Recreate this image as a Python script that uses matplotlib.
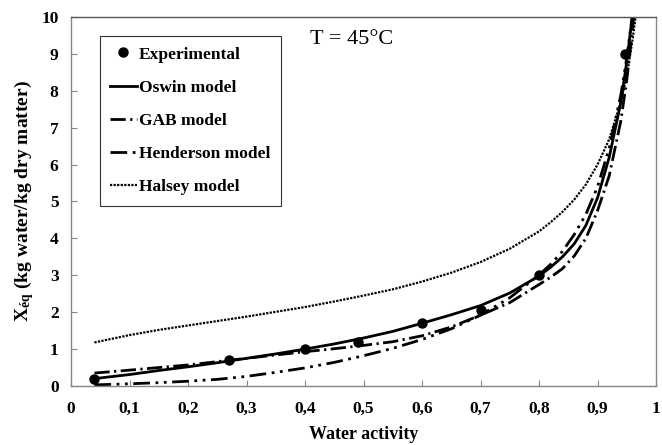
import matplotlib
matplotlib.use("Agg")
import matplotlib.pyplot as plt

plt.rcParams['font.family'] = ['Liberation Serif', 'DejaVu Serif']
plt.rcParams['font.weight'] = 'bold'
plt.rcParams['mathtext.fontset'] = 'custom'
plt.rcParams['mathtext.rm'] = 'Liberation Serif:bold'
plt.rcParams['mathtext.it'] = 'Liberation Serif:bold'
plt.rcParams['mathtext.bf'] = 'Liberation Serif:bold'

# Experimental data
exp_aw = [0.04, 0.27, 0.40, 0.49, 0.60, 0.70, 0.80, 0.947]
exp_x = [0.20, 0.70, 1.00, 1.20, 1.70, 2.05, 3.00, 9.00]

# Model curves
aw = [0.04, 0.10, 0.15, 0.20, 0.25, 0.30, 0.35, 0.40, 0.45, 0.50, 0.55, 0.60,
      0.65, 0.70, 0.75, 0.80, 0.82, 0.84, 0.86, 0.88, 0.90, 0.92, 0.94, 0.95,
      0.96, 0.965]
oswin = [0.20, 0.31, 0.42, 0.52, 0.63, 0.75, 0.87, 1.00, 1.14, 1.30, 1.48, 1.70,
         1.93, 2.18, 2.52, 2.98, 3.22, 3.50, 3.85, 4.35, 5.10, 6.20, 7.70, 8.80,
         10.1, 10.8]
gab = [0.35, 0.43, 0.50, 0.57, 0.66, 0.75, 0.84, 0.93, 1.01, 1.10, 1.20, 1.36,
       1.60, 1.92, 2.26, 2.75, 2.95, 3.18, 3.52, 4.00, 4.75, 5.70, 7.20, 8.30,
       9.70, 10.5]
henderson = [0.03, 0.06, 0.09, 0.13, 0.18, 0.26, 0.37, 0.49, 0.64, 0.82, 1.02, 1.26,
             1.55, 1.92, 2.39, 3.01, 3.30, 3.65, 4.10, 4.65, 5.40, 6.45, 7.90, 8.90,
             10.1, 10.8]
halsey = [1.18, 1.38, 1.52, 1.64, 1.76, 1.88, 2.01, 2.14, 2.29, 2.45, 2.62, 2.83,
          3.07, 3.36, 3.72, 4.19, 4.44, 4.72, 5.05, 5.46, 6.00, 6.69, 7.71, 8.40,
          9.40, 10.0]

xticks = [0, 0.1, 0.2, 0.3, 0.4, 0.5, 0.6, 0.7, 0.8, 0.9, 1.0]
xticklabels = ['0', '0,1', '0,2', '0,3', '0,4', '0,5', '0,6', '0,7', '0,8', '0,9', '1']
yticks = list(range(0, 11))

fig = plt.figure(figsize=(6.62, 4.45), dpi=100)
ax = fig.add_axes([0.1073, 0.1326, 0.8837, 0.8292])

ax.plot(exp_aw, exp_x, 'o', color='black', markersize=6.5, label='Experimental', zorder=5)
ax.plot(aw, oswin, '-', color='black', lw=2.0, label='Oswin model')
ax.plot(aw, gab, color='black', lw=2.0, dashes=(5.5, 1.6, 0.8, 1.6), label='GAB model')
ax.plot(aw, henderson, color='black', lw=2.0, dashes=(6, 2, 1, 2, 1, 2), label='Henderson model')
ax.plot(aw, halsey, color='black', lw=1.6, dashes=(1.0, 0.6), label='Halsey model')

ax.set_xlim(0, 1)
ax.set_ylim(0, 10)
ax.set_xticks(xticks)
ax.set_xticklabels(xticklabels)
ax.set_yticks(yticks)
ax.tick_params(axis='x', direction='in', length=4, color='#868686', pad=11, labelsize=12.5)
ax.tick_params(axis='y', direction='in', length=4, color='#868686', pad=9, labelsize=12.5)
for lab in ax.get_xticklabels() + ax.get_yticklabels():
    lab.set_fontweight('bold')
for s in ax.spines.values():
    s.set_color('#868686')
    s.set_linewidth(1.0)
ax.spines['top'].set_color('#555555')

ax.set_xlabel('Water activity', fontsize=13, fontweight='bold', labelpad=6)
ax.set_ylabel(r'X$_{\mathrm{éq}}$ (kg water/kg dry matter)', fontsize=14,
              fontweight='bold', labelpad=4)

ax.text(0.479, 0.964, 'T = 45°C', transform=ax.transAxes, fontsize=16,
        fontweight='normal', ha='center', va='top')

leg = ax.legend(loc='upper left', bbox_to_anchor=(0.0496, 0.9485), frameon=True,
                fancybox=False, edgecolor='black', handlelength=1.5,
                handletextpad=0.15, labelspacing=0.98, borderpad=0.6,
                borderaxespad=0.0,
                prop={'family': 'Liberation Serif', 'weight': 'bold', 'size': 12.5})
leg.get_frame().set_linewidth(0.8)

fig.savefig('out.png', dpi=100)
